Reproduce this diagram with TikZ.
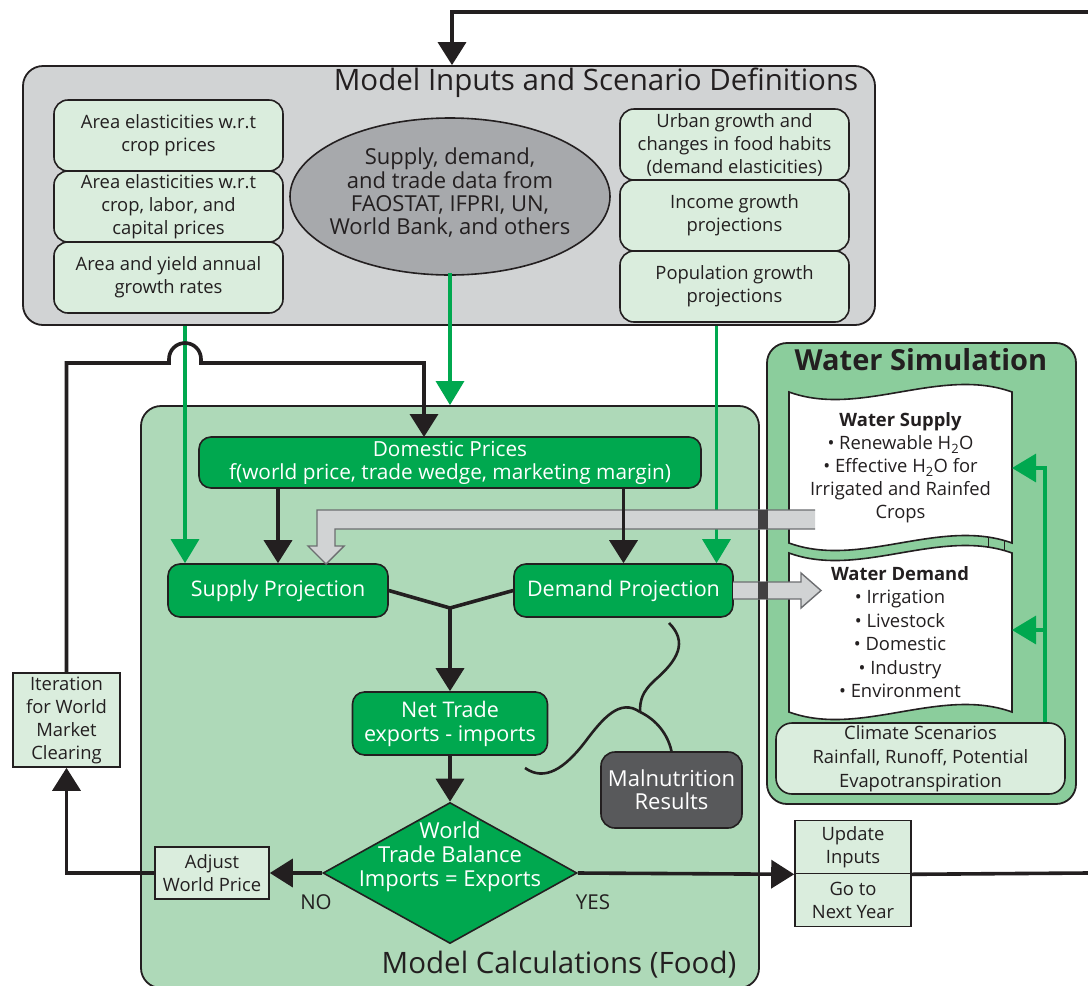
\documentclass[tikz,border=0pt]{standalone}
\usepackage{fontspec}
\setmainfont{Open Sans}
\usetikzlibrary{arrows.meta,shapes.geometric}

\definecolor{ink}{HTML}{231F20}
\definecolor{inputgray}{HTML}{D1D3D4}
\definecolor{palegreen}{HTML}{DAEDDD}
\definecolor{datagray}{HTML}{A7A9AC}
\definecolor{calcgreen}{HTML}{AED9B8}
\definecolor{watergreen}{HTML}{8BCD9C}
\definecolor{boxgreen}{HTML}{00A84F}
\definecolor{malgray}{HTML}{58595B}
\definecolor{bandedge}{HTML}{6D6E71}
\definecolor{bandmark}{HTML}{414042}

\begin{document}
\begin{tikzpicture}[x=1pt,y=-1pt,
  every node/.style={text=ink,align=center,inner sep=0pt},
  panel/.style={draw=ink,line width=1.8pt,rounded corners=20pt},
  inbox/.style={draw=ink,line width=1.6pt,fill=palegreen,rounded corners=14pt,
    minimum width=229pt,minimum height=71pt,font=\fontsize{18.4}{23}\selectfont},
  sqbox/.style={draw=ink,line width=1.6pt,fill=palegreen,font=\fontsize{18.4}{23}\selectfont},
  calcbox/.style={draw=ink,line width=1.6pt,fill=boxgreen,text=white,rounded corners=12pt,
    font=\fontsize{21.5}{24}\selectfont},
  doc/.style={draw=ink,line width=1.6pt,fill=white},
  barrow/.style={draw=ink,line width=3.6pt,-{Triangle[length=23pt,width=28pt]}},
  bline/.style={draw=ink,line width=3.6pt},
  garrow/.style={draw=boxgreen,line width=3.2pt,-{Triangle[length=24pt,width=28pt]}},
  band/.style={draw=bandedge,line width=1.4pt}]

  \useasboundingbox (0,0) rectangle (1088,986);
  \fill[white] (0,0) rectangle (1088,986);

  % panels
  \node[panel,fill=inputgray,minimum width=852pt,minimum height=259pt] (inp) at (449,195.5) {};
  \node[panel,fill=calcgreen,minimum width=618pt,minimum height=582pt] (calc) at (450,697) {};
  \node[panel,fill=watergreen,minimum width=309pt,minimum height=461pt] (wat) at (921.5,573.5) {};
  \node[font=\fontsize{29.5}{30}\selectfont] (inptitle) at (596,83) {Model Inputs and Scenario Definitions};
  \node[font=\fontsize{29.5}{30}\selectfont] (calctitle) at (559,965) {Model Calculations (Food)};
  \node[font=\bfseries\fontsize{29}{30}\selectfont] (wattitle) at (921,360) {Water Simulation};

  % model inputs
  \node[inbox] (ae1) at (168.5,135.5) {Area elasticities w.r.t\\crop prices};
  \node[inbox] (ae2) at (168.5,206.5) {Area elasticities w.r.t\\crop, labor, and\\capital prices};
  \node[inbox] (ae3) at (168.5,277.5) {Area and yield annual\\growth rates};
  \node[inbox] (ug) at (734.5,144.5) {Urban growth and\\changes in food habits\\(demand elasticities)};
  \node[inbox] (ig) at (734.5,215.5) {Income growth\\projections};
  \node[inbox] (pg) at (734.5,286.5) {Population growth\\projections};
  \node[ellipse,draw=ink,line width=1.6pt,fill=datagray,minimum width=320pt,minimum height=157pt] (data) at (450,196.5) {};
  \node[font=\fontsize{22}{23.3}\selectfont] (datatext) at (450,193)
    {Supply, demand,\\and trade data from\\FAOSTAT, IFPRI, UN,\\World Bank, and others};

  % water simulation
  \draw[doc] (789,392) .. controls (860,418) and (940,366) .. (1012,392) -- (1012,543)
    .. controls (940,517) and (860,569) .. (789,543) -- cycle;
  \draw[doc] (789,553) .. controls (860,579) and (940,527) .. (1012,553) -- (1012,712)
    .. controls (940,686) and (860,738) .. (789,712) -- cycle;
  \draw[ink,line width=1pt] (988,537) -- (988,547) (1004,540) -- (1004,550);
  \node[font=\fontsize{18.4}{23}\selectfont] (wsup) at (900.5,468)
    {\textbf{Water Supply}\\\textbullet{} Renewable H\textsubscript{2}O\\\textbullet{} Effective H\textsubscript{2}O for\\Irrigated and Rainfed\\Crops};
  \node[font=\fontsize{18.4}{23.5}\selectfont] (wdem) at (900,632)
    {\textbf{Water Demand}\\\textbullet{} Irrigation\\\textbullet{} Livestock\\\textbullet{} Domestic\\\textbullet{} Industry\\\textbullet{} Environment};
  \node[inbox,rounded corners=16pt,minimum width=289pt,font=\fontsize{18.4}{24}\selectfont] (clim) at (920.5,758.5)
    {Climate Scenarios\\Rainfall, Runoff, Potential\\Evapotranspiration};
  \coordinate (spine) at (1045,468);
  \draw[garrow] (clim.north -| spine) -- (spine) -- (1012,468);
  \draw[garrow] (1045,630) -- (1012,630);

  % model calculations
  \node[calcbox,minimum width=502pt,minimum height=51pt,font=\fontsize{20.8}{23}\selectfont] (dom) at (450,462.5)
    {Domestic Prices\\f(world price, trade wedge, marketing margin)};
  \node[calcbox,minimum width=220pt,minimum height=53pt] (sup) at (278,590.5) {Supply Projection};
  \node[calcbox,minimum width=219pt,minimum height=53pt] (dem) at (623.5,590.5) {Demand Projection};
  \node[calcbox,minimum width=195pt,minimum height=63pt] (net) at (450,723.5) {Net Trade\\exports - imports};
  \node[diamond,draw=ink,line width=1.6pt,fill=boxgreen,minimum width=254pt,minimum height=141pt] (bal) at (450,873) {};
  \node[text=white,font=\fontsize{22}{24}\selectfont] (baltext) at (450,857) {World\\Trade Balance\\Imports = Exports};
  \node[calcbox,fill=malgray,rounded corners=14pt,minimum width=141pt,minimum height=76pt,
    font=\fontsize{22}{23}\selectfont] (mal) at (671.5,790) {Malnutrition\\Results};
  \node[sqbox,minimum width=107pt,minimum height=94pt] (iter) at (66.5,720) {Iteration\\for World\\Market\\Clearing};
  \node[sqbox,minimum width=114pt,minimum height=52pt] (adj) at (212,873) {Adjust\\World Price};
  \node[sqbox,minimum width=116pt,minimum height=53pt] (upd1) at (853,847) {Update\\Inputs};
  \node[sqbox,minimum width=116pt,minimum height=53pt] (upd2) at (853,900) {Go to\\Next Year};
  \node[font=\fontsize{20.5}{22}\selectfont] (nolab) at (316,902) {NO};
  \node[font=\fontsize{20.5}{22}\selectfont] (yeslab) at (593,902) {YES};

  % green input arrows
  \coordinate (g1) at (185,0);
  \coordinate (g3) at (716.5,0);
  \draw[garrow] (inp.south -| g1) -- (sup.north -| g1);
  \draw[garrow] ([yshift=3pt]data.south) -- (calc.north);
  \draw[garrow] (inp.south -| g3) -- (dem.north -| g3);

  % grey water links
  \fill[inputgray] (815,510) -- (317,510) -- (317,546) -- (308,546) -- (326,564) -- (344,546)
    -- (335,546) -- (335,529) -- (815,529) -- cycle;
  \draw[band] (815,510) -- (317,510) -- (317,546) -- (308,546) -- (326,564) -- (344,546)
    -- (335,546) -- (335,529) -- (815,529);
  \fill[bandmark] (758,510) rectangle (768,529);
  \fill[inputgray] (733,582) -- (801,582) -- (801,573) -- (821,590.5) -- (801,608) -- (801,599) -- (733,599) -- cycle;
  \draw[band] (733,582) -- (801,582) -- (801,573) -- (821,590.5) -- (801,608) -- (801,599) -- (733,599);
  \fill[bandmark] (758,582) rectangle (768,599);

  % black flow
  \coordinate (mrg) at (450,608);
  \coordinate (dpin) at (424,437);
  \coordinate (topR) at (1088,12);
  \coordinate (botR) at (1088,873);
  \draw[barrow] (topR) -| ([xshift=3pt]inp.north);
  \draw[barrow] (iter.north) |- (169,363) -- (169,359) arc[start angle=180,end angle=360,radius=16] -- (201,363) -| (dpin);
  \draw[barrow] (dom.south -| sup.north) -- (sup.north);
  \draw[barrow] (dom.south -| dem.north) -- (dem.north);
  \draw[bline] (sup.east) -- (mrg) -- (dem.west);
  \draw[barrow] (mrg) -- (net.north);
  \draw[barrow] (net.south) -- (bal.north);
  \draw[barrow] (bal.west) -- (adj.east);
  \draw[barrow] (adj.west) -| (iter.south);
  \draw[barrow] (bal.east) -- (upd1.south west);
  \draw[bline] (upd1.south east) -- (botR);

  % malnutrition link
  \coordinate (fork) at (640,712);
  \draw[ink,line width=2.6pt] (669,623) .. controls (688,642) and (678,660) .. (655,680)
    .. controls (642,692) and (640,700) .. (fork);
  \draw[ink,line width=2.6pt] (fork) .. controls (657,720) and (668,735) .. (mal.north);
  \draw[ink,line width=2.6pt] (fork) .. controls (620,698) and (603,718) .. (585,742)
    .. controls (565,768) and (545,782) .. (525,768);
\end{tikzpicture}
\end{document}
